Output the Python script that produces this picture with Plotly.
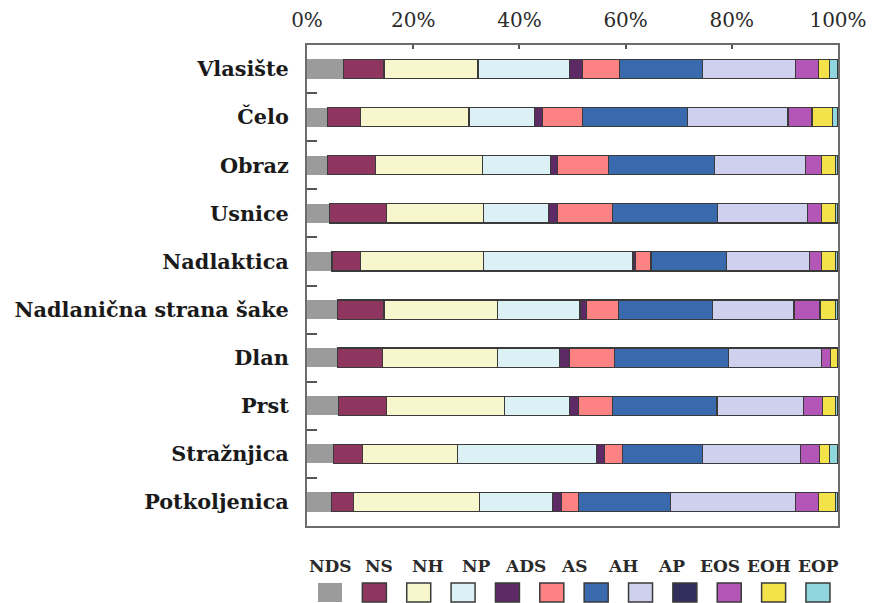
import plotly.graph_objects as go

# ---- data (percent shares) ----
categories = ["Vlasište", "Čelo", "Obraz", "Usnice", "Nadlaktica",
              "Nadlanična strana šake", "Dlan", "Prst", "Stražnjica", "Potkoljenica"]

series_names = ["NDS", "NS", "NH", "NP", "ADS", "AS", "AH", "AP", "EODS", "EOS", "EOH", "EOP"]

NDS  = [6.9, 3.9, 3.9, 4.2, 4.7, 5.7, 5.7, 6.0, 5.0, 4.6]
NS   = [7.6, 6.1, 9.0, 10.7, 5.3, 8.8, 8.5, 8.9, 5.4, 4.2]
NH   = [17.7, 20.5, 20.1, 18.4, 23.3, 21.4, 21.7, 22.3, 18.0, 23.7]
NP   = [17.3, 12.4, 12.8, 12.2, 28.1, 15.5, 11.6, 12.2, 26.1, 13.7]
ADS  = [2.4, 1.4, 1.3, 1.6, 0.4, 1.3, 1.9, 1.8, 1.5, 1.8]
AS   = [7.0, 7.6, 9.7, 10.5, 3.0, 5.9, 8.5, 6.4, 3.4, 3.2]
AH   = [15.6, 19.7, 19.9, 19.7, 14.2, 17.8, 21.5, 19.6, 15.1, 17.3]
AP   = [17.5, 19.0, 17.2, 17.0, 15.6, 15.3, 17.5, 16.3, 18.5, 23.5]
EODS = [0.0, 0.0, 0.0, 0.0, 0.0, 0.0, 0.0, 0.0, 0.0, 0.0]
EOS  = [4.3, 4.5, 3.0, 2.6, 2.3, 4.9, 1.7, 3.6, 3.5, 4.4]
EOH  = [2.1, 3.8, 2.6, 2.6, 2.6, 2.9, 1.3, 2.4, 1.9, 3.1]
EOP  = [1.6, 1.1, 0.5, 0.5, 0.5, 0.5, 0.1, 0.5, 1.6, 0.5]

series_values = [NDS, NS, NH, NP, ADS, AS, AH, AP, EODS, EOS, EOH, EOP]

colors = ["#9b9b9b", "#8e3560", "#f8f6cc", "#dcf1f6", "#5e2a66", "#fc8283",
          "#3a6aae", "#cfcfee", "#332f5c", "#b455b8", "#f3e24a", "#8fd6de"]

# legend labels as printed in the reference (11 labels over 12 swatches)
legend_labels = ["NDS", "NS", "NH", "NP", "ADS", "AS", "AH", "AP", "EOS", "EOH", "EOP"]

x_ticks = [0, 20, 40, 60, 80, 100]
x_tick_text = [f"{v}%" for v in x_ticks]

# ---- figure geometry (page pixels; the page body adds an 8px offset) ----
W, H = 881, 603
OFF = 8
PLOT_L, PLOT_R, PLOT_T, PLOT_B = 307, 838, 45, 526   # target on the page
ML = PLOT_L - OFF
MT = PLOT_T - OFF
PW = PLOT_R - PLOT_L
PH = PLOT_B - PLOT_T
MR = W - ML - PW
MB = H - MT - PH

fig = go.Figure()
for name, vals, col in zip(series_names, series_values, colors):
    fig.add_trace(go.Bar(
        y=categories, x=vals, name=name, orientation="h",
        marker=dict(color=col,
                    line=dict(color="#3a3a3a" if name != "NDS" else col,
                              width=1.2 if name != "NDS" else 0)),
        width=0.4, showlegend=False,
    ))

TXT = "#2a2a2a"
fig.update_layout(
    width=W, height=H, barmode="stack",
    margin=dict(l=ML, r=MR, t=MT, b=MB, autoexpand=False),
    plot_bgcolor="white", paper_bgcolor="white",
    font=dict(family="DejaVu Serif", color=TXT),
    xaxis=dict(side="top", range=[0, 100], tickvals=x_ticks, ticktext=x_tick_text,
               ticks="inside", ticklen=4, tickcolor="#555", tickwidth=1.5,
               showline=True, linecolor="#6b6b6b", linewidth=2, mirror=True,
               showgrid=False, zeroline=False, automargin=False,
               tickfont=dict(family="DejaVu Serif", size=20, color=TXT),
               ticklabelstandoff=8),
    yaxis=dict(autorange="reversed", type="category",
               ticks="inside", tickson="boundaries", ticklen=10, tickcolor="#555", tickwidth=1.5,
               showline=True, linecolor="#6b6b6b", linewidth=2, mirror=True,
               showgrid=False, zeroline=False, automargin=False,
               tickfont=dict(family="DejaVu Serif", size=20.8, color="#1a1a1a", weight="bold"),
               ticklabelstandoff=12),
)

# ---- legend drawn below the plot (labels above square swatches) ----
def px_x(px):   # page x -> paper
    return (px - PLOT_L) / PW

def px_y(py):   # page y -> paper
    return (PLOT_B - py) / PH

sw_x0, sw_step, sw_w = 330.0, 44.36, 24
for i, col in enumerate(colors):
    cx = sw_x0 + i * sw_step
    fig.add_shape(type="rect", xref="paper", yref="paper",
                  x0=px_x(cx - sw_w / 2), x1=px_x(cx + sw_w / 2),
                  y0=px_y(602), y1=px_y(583),
                  fillcolor=col,
                  line=dict(color="#3a3a3a" if i > 0 else col, width=1.5 if i > 0 else 0))

lb_x0, lb_step = 330.0, 48.8
for i, lab in enumerate(legend_labels):
    cx = lb_x0 + i * lb_step
    fig.add_annotation(text=lab, xref="paper", yref="paper",
                       x=px_x(cx), y=px_y(566), xanchor="center", yanchor="middle",
                       showarrow=False,
                       font=dict(family="DejaVu Serif", size=17, color=TXT, weight="bold"))

fig.write_html("out.html")
